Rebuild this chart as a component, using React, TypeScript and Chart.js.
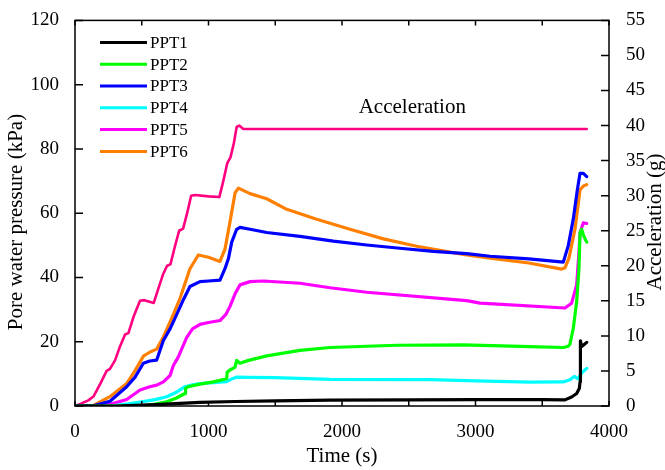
import React, { useEffect, useRef } from 'react';
import { Chart, registerables } from 'chart.js';

Chart.register(...registerables);

const FONT = '"Liberation Serif", "Times New Roman", serif';

// ---- data (time in s, pore pressure in kPa, acceleration in g) ----
const ppt1Time = [0, 300, 600, 936, 1200, 1500, 1910, 2500, 3000, 3500, 3670, 3720, 3758, 3778, 3783, 3786, 3795, 3810, 3833];
const ppt1Kpa = [0, 0, 0.4, 1.1, 1.4, 1.6, 1.8, 1.9, 2.0, 2.0, 1.9, 2.8, 3.9, 5.5, 7.5, 20.3, 18.5, 19.0, 19.8];

const ppt2Time = [0, 400, 530, 600, 687, 760, 824, 828, 850, 936, 1036, 1136, 1140, 1160, 1198, 1211, 1236, 1300, 1436, 1685, 1910, 2410, 2909, 3408, 3658, 3695, 3708, 3733, 3758, 3775, 3783, 3795, 3810, 3833];
const ppt2Kpa = [0, 0, 0.2, 0.6, 1.3, 2.5, 3.9, 5.5, 6.0, 6.8, 7.5, 8.5, 10.5, 11.2, 12.0, 14.2, 13.3, 14.2, 15.6, 17.3, 18.2, 18.9, 19.0, 18.5, 18.2, 18.6, 19.3, 24.3, 32.6, 42.7, 54.0, 55.0, 53.0, 51.0];

const ppt3Time = [0, 150, 262, 387, 450, 512, 560, 612, 662, 712, 762, 811, 861, 936, 1000, 1086, 1124, 1150, 1174, 1211, 1236, 1311, 1436, 1685, 1935, 2185, 2434, 2684, 2934, 3109, 3400, 3658, 3695, 3733, 3763, 3783, 3808, 3833];
const ppt3Kpa = [0, 0.2, 1.5, 6.0, 9.0, 13.3, 14.0, 14.3, 20.4, 24.0, 28.5, 33.0, 37.2, 38.7, 38.9, 39.2, 42.8, 46.0, 51.0, 55.0, 55.6, 55.0, 54.0, 52.8, 51.3, 50.1, 49.1, 48.1, 47.4, 46.6, 45.8, 44.8, 49.9, 58.3, 67.3, 72.4, 72.4, 71.4];

const ppt4Time = [0, 262, 400, 512, 600, 687, 760, 824, 880, 936, 1036, 1136, 1180, 1211, 1300, 1500, 1910, 2659, 3000, 3408, 3658, 3708, 3740, 3770, 3783, 3800, 3833];
const ppt4Kpa = [0, 0, 0.7, 1.4, 2.0, 2.9, 4.3, 6.0, 6.6, 7.0, 7.3, 7.6, 8.5, 9.0, 8.9, 8.8, 8.3, 8.2, 7.8, 7.4, 7.5, 8.2, 9.2, 8.4, 9.5, 10.5, 11.7];

const ppt5Time = [0, 150, 262, 387, 487, 560, 612, 662, 712, 737, 774, 836, 880, 936, 1000, 1086, 1130, 1161, 1200, 1236, 1311, 1411, 1685, 1910, 2185, 2934, 3034, 3670, 3720, 3758, 3775, 3783, 3808, 3833];
const ppt5Kpa = [0, 0.1, 0.5, 2.0, 5.0, 6.0, 6.5, 7.5, 9.5, 12.6, 15.3, 21.3, 24.0, 25.4, 26.0, 26.6, 28.5, 31.0, 35.0, 37.7, 38.7, 38.9, 38.2, 36.8, 35.4, 32.8, 32.0, 30.5, 32.0, 37.7, 47.9, 54.0, 57.0, 56.8];

const ppt6Time = [0, 137, 262, 387, 450, 512, 562, 612, 662, 687, 737, 787, 861, 924, 1000, 1086, 1124, 1161, 1199, 1224, 1311, 1436, 1586, 1810, 2060, 2310, 2560, 2809, 2934, 3109, 3400, 3645, 3670, 3700, 3745, 3783, 3810, 3833];
const ppt6Kpa = [0, 0.2, 2.9, 7.0, 11.0, 15.5, 16.8, 17.7, 21.5, 23.8, 28.5, 33.5, 42.7, 47.0, 46.3, 45.0, 48.9, 57.3, 66.3, 67.8, 66.1, 64.5, 61.2, 58.1, 55.0, 52.0, 49.7, 47.9, 47.0, 46.0, 44.5, 42.6, 43.0, 46.0, 55.0, 67.3, 68.5, 68.9];

const accelTime = [0, 40, 100, 140, 190, 237, 262, 300, 337, 375, 400, 440, 487, 520, 590, 620, 660, 690, 715, 745, 780, 810, 840, 870, 900, 1000, 1081, 1110, 1140, 1165, 1190, 1211, 1230, 1261, 3833];
const accelG = [0, 0.3, 0.8, 1.4, 3.2, 5.0, 5.3, 6.5, 8.5, 10.2, 10.4, 12.8, 15.0, 15.1, 14.7, 16.5, 18.8, 20.0, 20.2, 22.5, 25.0, 25.3, 27.5, 30.0, 30.1, 29.9, 29.8, 32.0, 34.6, 35.5, 37.5, 39.8, 40.0, 39.5, 39.5];

const seriesNames = ['PPT1', 'PPT2', 'PPT3', 'PPT4', 'PPT5', 'PPT6'];
const seriesColors = ['#000000', '#00ff00', '#0000ff', '#00ffff', '#ff00ff', '#ff8000'];
const seriesTimes = [ppt1Time, ppt2Time, ppt3Time, ppt4Time, ppt5Time, ppt6Time];
const seriesValues = [ppt1Kpa, ppt2Kpa, ppt3Kpa, ppt4Kpa, ppt5Kpa, ppt6Kpa];
const accelName = 'Acceleration';
const accelColor = '#ff0080';

const xTitle = 'Time (s)';
const yTitle = 'Pore water pressure (kPa)';
const y1Title = 'Acceleration (g)';

function pts(t: number[], v: number[]) {
  return t.map((x, i) => ({ x, y: v[i] }));
}

const decorPlugin = {
  id: 'decor',
  afterDraw(chart: any) {
    const ctx = chart.ctx;
    const { left, right, top, bottom } = chart.chartArea;
    const xs = chart.scales.x;
    const ys = chart.scales.y;
    const y1s = chart.scales.y1;
    ctx.save();
    ctx.strokeStyle = '#000';
    ctx.lineWidth = 1.5;
    ctx.strokeRect(left, top, right - left, bottom - top);
    ctx.beginPath();
    for (let v = 0; v <= 4000; v += 500) {
      const px = xs.getPixelForValue(v);
      ctx.moveTo(px, bottom);
      ctx.lineTo(px, bottom - 5);
      ctx.moveTo(px, top);
      ctx.lineTo(px, top + 5);
    }
    for (let v = 0; v <= 120; v += 20) {
      const py = ys.getPixelForValue(v);
      ctx.moveTo(left, py);
      ctx.lineTo(left + 8, py);
    }
    for (let v = 0; v <= 55; v += 5) {
      const py = y1s.getPixelForValue(v);
      ctx.moveTo(right, py);
      ctx.lineTo(right - 8, py);
    }
    ctx.stroke();

    // legend
    ctx.font = `17px ${FONT}`;
    ctx.textBaseline = 'middle';
    ctx.textAlign = 'left';
    seriesNames.forEach((name, i) => {
      const y = top + 22 + i * 21.8;
      ctx.strokeStyle = seriesColors[i];
      ctx.lineWidth = 3;
      ctx.beginPath();
      ctx.moveTo(left + 25, y);
      ctx.lineTo(left + 72, y);
      ctx.stroke();
      ctx.fillStyle = '#000';
      ctx.fillText(name, left + 75, y + 1);
    });

    // annotation
    ctx.font = `21px ${FONT}`;
    ctx.textBaseline = 'alphabetic';
    ctx.fillStyle = '#000';
    ctx.fillText(accelName, xs.getPixelForValue(2125), 113);

    // axis titles
    ctx.textAlign = 'center';
    ctx.textBaseline = 'middle';
    ctx.fillText(xTitle, (left + right) / 2, 456);
    ctx.save();
    ctx.translate(16, 222);
    ctx.rotate(-Math.PI / 2);
    ctx.fillText(yTitle, 0, 0);
    ctx.restore();
    ctx.save();
    ctx.translate(655, 222);
    ctx.rotate(-Math.PI / 2);
    ctx.fillText(y1Title, 0, 0);
    ctx.restore();
    ctx.restore();
  },
};

export default function App() {
  const ref = useRef<HTMLCanvasElement>(null);
  useEffect(() => {
    if (!ref.current) return;
    const tickFont = { family: FONT, size: 19 };
    const plain = (v: any) => String(v);
    const datasets: any[] = seriesNames.map((name, i) => ({
      label: name,
      data: pts(seriesTimes[i], seriesValues[i]),
      borderColor: seriesColors[i],
      backgroundColor: seriesColors[i],
      borderWidth: 3.2,
      borderJoinStyle: 'round',
      borderCapStyle: 'round',
      pointRadius: 0,
      tension: 0,
      yAxisID: 'y',
      order: 1,
    }));
    datasets.push({
      label: accelName,
      data: pts(accelTime, accelG),
      borderColor: accelColor,
      backgroundColor: accelColor,
      borderWidth: 2.6,
      borderJoinStyle: 'round',
      borderCapStyle: 'round',
      pointRadius: 0,
      tension: 0,
      yAxisID: 'y1',
      order: 2,
    });
    const chart = new Chart(ref.current, {
      type: 'line',
      data: { datasets },
      options: {
        responsive: false,
        animation: false,
        devicePixelRatio: 1,
        layout: { padding: { top: 15, left: 0, right: 0, bottom: 0 } },
        plugins: { legend: { display: false }, tooltip: { enabled: false } },
        scales: {
          x: {
            type: 'linear',
            min: 0,
            max: 4000,
            ticks: { stepSize: 1000, font: tickFont, color: '#000', padding: 7, maxRotation: 0, callback: plain },
            grid: { display: false },
            border: { display: false },
            afterFit: (s: any) => { s.height = 64; },
          },
          y: {
            type: 'linear',
            position: 'left',
            min: 0,
            max: 120,
            ticks: { stepSize: 20, font: tickFont, color: '#000', padding: 8, callback: plain },
            grid: { display: false },
            border: { display: false },
            afterFit: (s: any) => { s.width = 75; },
          },
          y1: {
            type: 'linear',
            position: 'right',
            min: 0,
            max: 55,
            ticks: { stepSize: 5, font: tickFont, color: '#000', padding: 9, callback: plain },
            grid: { display: false },
            border: { display: false },
            afterFit: (s: any) => { s.width = 56; },
          },
        },
      },
      plugins: [decorPlugin],
    });
    return () => chart.destroy();
  }, []);
  return (
    <div style={{ position: 'absolute', left: 0, top: 0, width: 665, height: 470, background: '#fff' }}>
      <canvas ref={ref} width={665} height={470} />
    </div>
  );
}
